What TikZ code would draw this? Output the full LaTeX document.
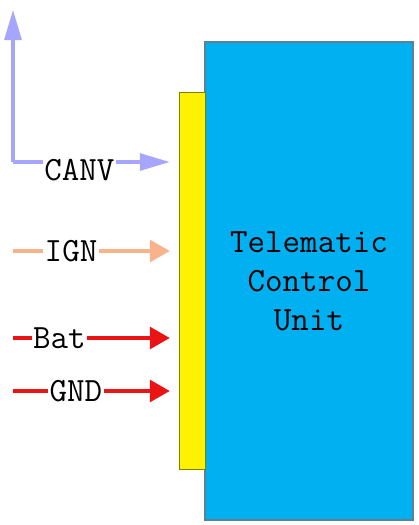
\documentclass[tikz,border=0pt]{standalone}
\usepackage{fontspec}
\usetikzlibrary{arrows.meta,positioning}
\definecolor{tcublue}{RGB}{0,176,240}
\definecolor{tcuedge}{RGB}{90,130,150}
\definecolor{baredge}{RGB}{128,128,0}
\definecolor{canvcol}{RGB}{166,166,255}
\definecolor{igncol}{RGB}{248,178,140}
\definecolor{batcol}{RGB}{235,20,20}

\begin{document}
\begin{tikzpicture}[x=1pt,y=-1pt,
    unitbox/.style={draw=tcuedge,line width=1.5pt,fill=tcublue,minimum width=208pt,minimum height=478pt,
        align=center,font=\ttfamily\fontsize{34}{39}\selectfont},
    connbar/.style={draw=baredge,line width=1.5pt,fill=yellow,minimum width=26pt,minimum height=377pt,inner sep=0pt},
    wire/.style={line width=3.2pt,shorten >=9pt},
    sig/.style={fill=white,inner sep=1.5pt,text=black,font=\ttfamily\fontsize{34}{34}\selectfont}]
    \useasboundingbox (0,0) rectangle (418,525);
    %Unit
    \node[unitbox] (tcu) at (309,281) {Telematic\\Control\\Unit};
    \node[connbar,anchor=east] (conn) at ([xshift=2pt]tcu.west) {};
    %Signal ends
    \coordinate (canvtop) at (13,10);
    \coordinate (canv) at (13,162);
    \coordinate (ign) at (13,251);
    \coordinate (bat) at (13,338);
    \coordinate (gnd) at (13,391);
    %CANV
    \draw[wire,canvcol,shorten >=0pt,-{Triangle[length=30pt,width=17pt]}] (canv) -- (canvtop);
    \draw[wire,canvcol,-{Triangle[length=30pt,width=17pt]}] (canv) -- (conn.west |- canv)
        node[sig,pos=0.40,yshift=-8pt] {CANV};
    %IGN
    \draw[wire,igncol,-{Triangle[length=20pt,width=22pt]}] (ign) -- (conn.west |- ign)
        node[sig,pos=0.35] {IGN};
    %Bat GND
    \draw[wire,batcol,-{Triangle[length=20pt,width=22pt]}] (bat) -- (conn.west |- bat)
        node[sig,pos=0.28] {Bat};
    \draw[wire,batcol,-{Triangle[length=20pt,width=22pt]}] (gnd) -- (conn.west |- gnd)
        node[sig,pos=0.38] {GND};
\end{tikzpicture}
\end{document}
